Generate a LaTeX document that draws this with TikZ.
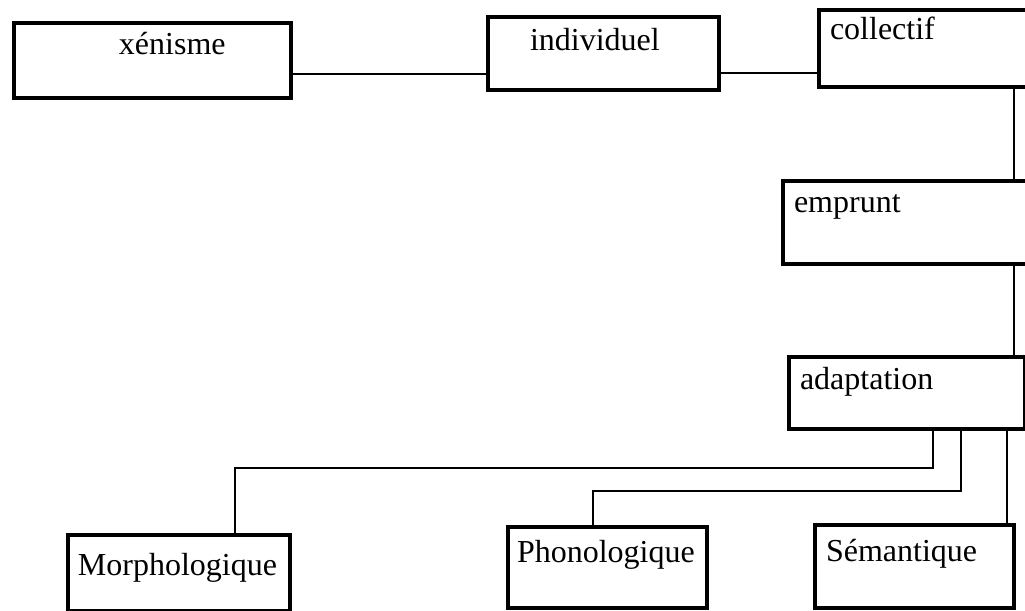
\documentclass[tikz,border=0pt]{standalone}
\usepackage{fontspec}
\setmainfont{Liberation Serif}
\usepackage{tikz}
\tikzset{
  term/.style={draw, rectangle, line width=2pt, inner sep=0pt, align=left, anchor=north west,
    font=\fontsize{16pt}{19pt}\selectfont},
  link/.style={line width=1.4pt}
}

\begin{document}
\begin{tikzpicture}[x=0.5pt, y=-0.5pt]
    \useasboundingbox (0,0) rectangle (1025,611);

    % Top row
    \node[term, text width=138.5pt, text height=15.5pt, text depth=22pt] (xenisme) at (12,21) {\hspace*{52.5pt}xénisme};
    \node[term, text width=115.5pt, text height=16.5pt, text depth=20pt] (individuel) at (486,15) {\hspace*{21pt}individuel};
    \node[term, text width=106.5pt, text height=14.5pt, text depth=24pt] (collectif) at (817,8) {\hspace*{5.5pt}collectif};

    % Right column
    \node[term, text width=124.5pt, text height=15.5pt, text depth=26pt] (emprunt) at (781,179) {\hspace*{5.5pt}emprunt};
    \node[term, text width=118pt, text height=16pt, text depth=20pt] (adaptation) at (787,355) {\hspace*{5.5pt}adaptation};

    % Bottom row
    \node[term, text width=111pt, text height=20pt, text depth=18pt] (morpho) at (66,533) {\hspace*{5pt}Morphologique};
    \node[term, text width=99.5pt, text height=17.5pt, text depth=23pt] (phono) at (506,525) {\hspace*{4.5pt}Phonologique};
    \node[term, text width=99.5pt, text height=18pt, text depth=23.5pt] (sem) at (813,523) {\hspace*{5.5pt}Sémantique};

    % Taps
    \coordinate (xtap) at ([yshift=-6.75pt]xenisme.east);
    \coordinate (itap) at ([yshift=-9.75pt]individuel.east);
    \coordinate (ctap) at ([xshift=44.25pt]collectif.south);
    \coordinate (etap) at ([xshift=53.25pt]emprunt.south);
    \coordinate (stap) at ([xshift=50pt]adaptation.south);

    % Links
    \draw[link] (xtap) -- (xtap -| individuel.west);
    \draw[link] (itap) -- (itap -| collectif.west);
    \draw[link] (ctap) -- (ctap |- emprunt.north);
    \draw[link] (etap) -- (etap |- adaptation.north);
    \draw[link] ([xshift=13pt]adaptation.south) -- ++(0,37) -| ([xshift=28pt]morpho.north);
    \draw[link] ([xshift=27pt]adaptation.south) -- ++(0,60) -| ([xshift=-7.25pt]phono.north);
    \draw[link] (stap) -- (stap |- sem.north);
\end{tikzpicture}
\end{document}
